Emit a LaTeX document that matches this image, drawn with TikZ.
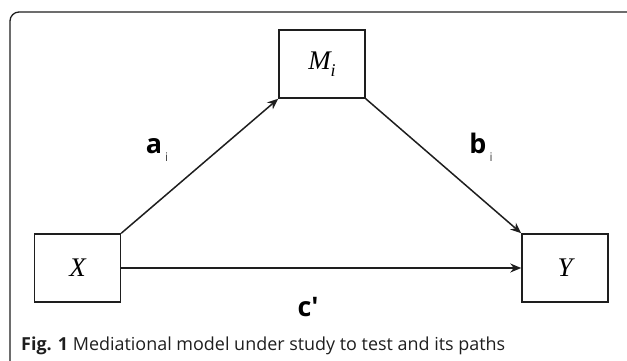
\documentclass[tikz,border=0pt]{standalone}
\usepackage{fontspec}
\setmainfont{Open Sans}
\newfontfamily\serifvar{Liberation Serif}
\usetikzlibrary{positioning,arrows.meta}
\definecolor{lineblack}{RGB}{30,30,30}
\definecolor{subgray}{RGB}{70,70,70}
\newcommand\pathsub[1]{\hspace{3bp}\raisebox{-0.3em}{\fontsize{12}{12}\selectfont\mdseries\color{subgray}#1}}

\begin{document}
\begin{tikzpicture}[x=1bp,y=1bp,
  varbox/.style={draw=lineblack,line width=1.5bp,minimum width=86bp,minimum height=68bp,
    inner sep=0pt,font=\serifvar\itshape\fontsize{27}{27}\selectfont},
  pathline/.style={draw=lineblack,line width=1.5bp,-{Stealth[length=11bp,width=9bp]}},
  pathlab/.style={font=\bfseries\fontsize{27}{27}\selectfont}]
  \useasboundingbox (0,0) rectangle (627,360);
  % outer frame, runs off the right and bottom edges
  \draw[lineblack,line width=1.3bp,rounded corners=9bp] (10,-20) rectangle (640,348);

  % variables
  \node[varbox] (med) at (322,296) {M\raisebox{-0.25em}{\fontsize{18}{18}\selectfont i}};
  \node[varbox] (xvar) at (77.5,92) {X};
  \node[varbox] (yvar) at (565,92) {Y};

  % paths
  \draw[pathline] (xvar.north east) -- (med.south west);
  \draw[pathline] (med.south east) -- (yvar.north west);
  \draw[pathline] (xvar.east) -- (yvar.west);

  \node[pathlab] (alab) at (157,210) {a\pathsub{i}};
  \node[pathlab] (blab) at (481,213) {b\pathsub{i}};
  \node[pathlab] (clab) at (308,53) {c\textquotesingle};

  % caption
  \node[anchor=base west,inner sep=0pt,font=\fontsize{18}{18}\selectfont,text=lineblack]
    (caption) at (21,10) {\textbf{Fig. 1} Mediational model under study to test and its paths};
\end{tikzpicture}
\end{document}
